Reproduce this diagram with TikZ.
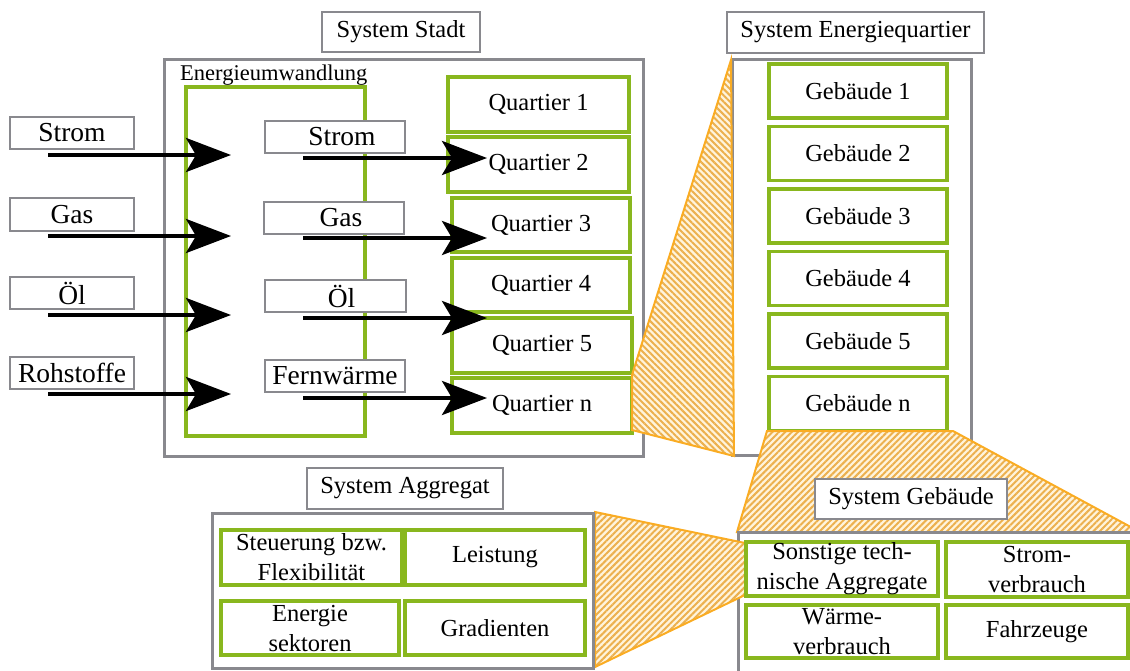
\documentclass[tikz,border=0pt]{standalone}
\usepackage{fontspec}
\setmainfont{Liberation Serif}
\usetikzlibrary{arrows.meta,patterns.meta}

\definecolor{frame}{RGB}{137,137,142}
\definecolor{leaf}{RGB}{137,183,30}
\definecolor{amber}{RGB}{250,172,35}
\definecolor{stripe}{RGB}{236,176,78}
\definecolor{cream}{RGB}{255,244,220}

\newcommand\mainsize{\fontsize{24.5}{30}\selectfont}
\newcommand\carriersize{\fontsize{27.5}{30}\selectfont}

\tikzset{
  sysbox/.style={draw=frame, line width=3pt, inner sep=0pt},
  convbox/.style={draw=leaf, line width=3.5pt, inner sep=0pt},
  titlebox/.style={draw=frame, fill=white, line width=2.5pt, inner sep=0pt,
    font=\mainsize},
  unitbox/.style={draw=leaf, fill=white, line width=3.5pt, inner sep=0pt,
    align=center, font=\mainsize},
  carrier/.style={draw=frame, fill=white, line width=2pt, inner sep=0pt,
    font=\carriersize},
  flow/.style={line width=4pt, -{Stealth[length=45pt,width=34pt,inset=10pt]}},
  wedgeA/.style={draw=amber, line width=2pt, preaction={fill=cream},
    pattern={Lines[angle=-45,distance=4.5pt,line width=2pt]}, pattern color=stripe},
  wedgeB/.style={draw=amber, line width=2pt, preaction={fill=cream},
    pattern={Lines[angle=45,distance=4.5pt,line width=2pt]}, pattern color=stripe},
}

% box from corner (x1,y1) to (x2,y2): style, x1, y1, x2, y2, name, text
\newcommand\boxat[7]{%
  \node[#1, minimum width={(#4)-(#2)}, minimum height={(#5)-(#3)}] (#6)
    at ({((#2)+(#4))/2},{((#3)+(#5))/2}) {#7};}

\begin{document}
\begin{tikzpicture}[x=1pt,y=-1pt]
\useasboundingbox (0,0) rectangle (1130,670);
\clip (0,0) rectangle (1130,670);

% ---------------- System Stadt ----------------
\boxat{sysbox}{164}{59}{643}{456}{stadt}{}
\boxat{titlebox}{322}{12}{480}{52}{tstadt}{System Stadt}
\node[anchor=base west, inner sep=0pt, font=\fontsize{22.5}{24}\selectfont]
  (ewlabel) at (180,80) {Energieumwandlung};
\boxat{convbox}{186}{87}{365}{436}{conv}{}

% energy carriers entering
\boxat{carrier}{10}{117}{134}{149}{inStrom}{Strom}
\boxat{carrier}{10}{198}{134}{231}{inGas}{Gas}
\boxat{carrier}{10}{277}{134}{309}{inOel}{Öl}
\boxat{carrier}{10}{357}{134}{389}{inRoh}{Rohstoffe}

% energy carriers leaving
\boxat{carrier}{265}{121}{405}{153}{outStrom}{\hspace*{14pt}Strom}
\boxat{carrier}{264}{202}{404}{234}{outGas}{\hspace*{14pt}Gas}
\boxat{carrier}{265}{280}{406}{312}{outOel}{\hspace*{12pt}Öl}
\boxat{carrier}{265}{360}{405}{392}{outFw}{Fernwärme}

% districts
\boxat{unitbox}{448}{77}{629}{132}{q1}{Quartier 1}
\boxat{unitbox}{448}{137}{629}{192}{q2}{Quartier 2}
\boxat{unitbox}{452}{198}{630}{252}{q3}{Quartier 3}
\boxat{unitbox}{452}{258}{630}{312}{q4}{Quartier 4}
\boxat{unitbox}{452}{318}{632}{373}{q5}{Quartier 5}
\boxat{unitbox}{452}{378}{632}{433}{qn}{Quartier n}

% flow arrows
\coordinate (a1s) at (48,155);  \coordinate (a1e) at (231,155);
\coordinate (a2s) at (48,236);  \coordinate (a2e) at (231,236);
\coordinate (a3s) at (48,315);  \coordinate (a3e) at (231,315);
\coordinate (a4s) at (48,394);  \coordinate (a4e) at (231,394);
\coordinate (b1s) at (303,158); \coordinate (b1e) at (487,158);
\coordinate (b2s) at (303,238); \coordinate (b2e) at (487,238);
\coordinate (b3s) at (303,318); \coordinate (b3e) at (487,318);
\coordinate (b4s) at (303,398); \coordinate (b4e) at (487,398);
\foreach \k in {1,2,3,4}{
  \draw[flow] (a\k s) -- (a\k e);
  \draw[flow] (b\k s) -- (b\k e);
}

% ---------------- System Energiequartier ----------------
\boxat{sysbox}{732}{59}{971}{455}{quartier}{}
\boxat{titlebox}{727}{12}{984}{53}{tquartier}{System Energiequartier}
\foreach \i/\lab in {0/1,1/2,2/3,3/4,4/5,5/n}{
  \boxat{unitbox}{769}{64+62.5*\i}{947}{118+62.5*\i}{g\lab}{Gebäude \lab}
}
% zoom wedge: Quartier n -> Energiequartier
\path[wedgeA] (632,375) -- (731,60) -- (734,456) -- (632,430) -- cycle;

% ---------------- System Gebäude ----------------
\path[wedgeB] (767,431) -- (953,431) -- (1140,532) -- (737,532) -- cycle;
\boxat{sysbox}{738}{532}{1160}{700}{gebaeude}{}
\boxat{titlebox}{815}{479}{1007}{519}{tgebaeude}{System Gebäude}

% zoom wedge: Sonstige Aggregate -> Aggregat
\path[wedgeB] (595,512) -- (745,543) -- (745,595) -- (595,667) -- cycle;

\boxat{unitbox}{746}{542}{938}{596}{sonst}{Sonstige tech-\\nische Aggregate}
\boxat{unitbox}{946}{542}{1128}{597}{strv}{Strom-\\verbrauch}
\boxat{unitbox}{746}{605}{938}{658}{waerme}{Wärme-\\verbrauch}
\boxat{unitbox}{946}{605}{1128}{658}{fahr}{Fahrzeuge}

% ---------------- System Aggregat ----------------
\boxat{sysbox}{212}{513}{593}{668}{aggregat}{}
\boxat{titlebox}{307}{468}{503}{509}{taggregat}{System Aggregat}
\boxat{unitbox}{221}{530}{402}{585}{steuer}{Steuerung bzw.\\Flexibilität}
\boxat{unitbox}{405}{530}{585}{585}{leist}{Leistung}
\boxat{unitbox}{221}{601}{399}{655}{sektor}{Energie\\sektoren}
\boxat{unitbox}{405}{601}{585}{655}{grad}{Gradienten}

\end{tikzpicture}
\end{document}
